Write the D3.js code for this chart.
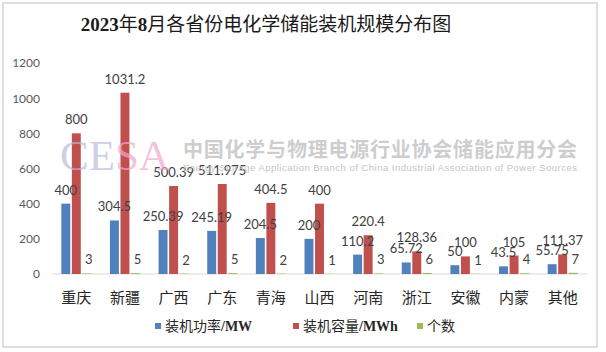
<!DOCTYPE html>
<html>
<head>
<meta charset="utf-8">
<script src="https://cdn.jsdelivr.net/npm/d3@7"></script>
<style>
  body { margin: 0; background: #fff; }
  .tick text { font-family: Lato, "Open Sans", sans-serif; font-size: 12px; fill: #595959; }
  .val { font-family: Lato, "Open Sans", sans-serif; font-size: 13px; fill: #404040; text-anchor: middle; }
  .cat { font-family: "Noto Sans CJK SC", sans-serif; font-size: 15px; fill: #262626; text-anchor: middle; }
  .legend-text { font-family: "Noto Sans CJK SC", sans-serif; font-size: 14px; fill: #262626; }
  .latin { font-family: "Liberation Serif", serif; font-weight: bold; }
</style>
</head>
<body>
<div id="chart"></div>
<script>
// categories and series
const provinces = ["重庆", "新疆", "广西", "广东", "青海", "山西", "河南", "浙江", "安徽", "内蒙", "其他"];
const powerMW = [400, 304.5, 250.39, 245.19, 204.5, 200, 110.2, 65.72, 50, 43.5, 55.75];
const capacityMWh = [800, 1031.2, 500.39, 511.975, 404.5, 400, 220.4, 128.36, 100, 105, 111.37];
const counts = [3, 5, 2, 5, 2, 1, 3, 6, 1, 4, 7];
const seriesNames = ["装机功率/MW", "装机容量/MWh", "个数"];
const seriesColors = ["#4f81bd", "#c0504d", "#9bbb59"];
const yTicks = [0, 200, 400, 600, 800, 1000, 1200];

const W = 606, H = 352;
const svg = d3.select("#chart").append("svg")
    .attr("width", W)
    .attr("height", H);

// outer frame
svg.append("rect")
    .attr("x", 3).attr("y", 3)
    .attr("width", 594).attr("height", 344)
    .attr("fill", "#fff")
    .attr("stroke", "#d4d4d4")
    .attr("stroke-width", 1.5);

// title: serif bold digits, plain CJK
const title = svg.append("text")
    .attr("x", 266).attr("y", 31)
    .attr("text-anchor", "middle")
    .style("font-family", "\"Noto Sans CJK SC\", sans-serif")
    .style("font-size", "19px")
    .style("fill", "#1a1a1a");
[["2023", true], ["年", false], ["8", true], ["月各省份电化学储能装机规模分布图", false]]
  .forEach(([t, latin]) => {
    title.append("tspan").attr("class", latin ? "latin" : null).text(t);
  });

// scales
const x = d3.scaleBand()
    .domain(provinces)
    .range([52, 587]);

const xs = d3.scaleBand()
    .domain(seriesNames)
    .range([-15, 15])
    .paddingInner(0.15);

const y = d3.scaleLinear()
    .domain([0, 1200])
    .range([274, 63]);

// y axis, no line
svg.append("g")
    .attr("transform", "translate(52,0)")
    .call(d3.axisLeft(y).tickValues(yTicks).tickSize(0).tickPadding(12).tickFormat(d3.format("d")))
    .call(g => g.select(".domain").remove());

// baseline
svg.append("line")
    .attr("x1", x.range()[0]).attr("x2", x.range()[1])
    .attr("y1", y(0)).attr("y2", y(0))
    .attr("stroke", "#d9d9d9");

const rows = provinces.map((p, i) => ({
  name: p,
  vals: [powerMW[i], capacityMWh[i], counts[i]]
}));

const groups = svg.selectAll(".grp")
  .data(rows)
  .join("g")
    .attr("class", "grp")
    .attr("transform", d => `translate(${x(d.name) + x.bandwidth() / 2},0)`);

groups.selectAll("rect")
  .data(d => d.vals.map((v, k) => ({key: seriesNames[k], v, k})))
  .join("rect")
    .attr("x", d => xs(d.key))
    .attr("y", d => y(d.v))
    .attr("width", xs.bandwidth())
    .attr("height", d => y(0) - y(d.v))
    .attr("fill", d => seriesColors[d.k]);

groups.selectAll(".val")
  .data(d => d.vals.map((v, k) => ({key: seriesNames[k], v, k})))
  .join("text")
    .attr("class", "val")
    .attr("x", d => xs(d.key) + xs.bandwidth() / 2 + (d.k == 2 ? 2 : 0))
    .attr("y", d => y(d.v) - 9)
    .text(d => d.v);

// category labels
svg.selectAll(".cat")
  .data(provinces)
  .join("text")
    .attr("class", "cat")
    .attr("x", d => x(d) + x.bandwidth() / 2)
    .attr("y", 303)
    .text(d => d);

// watermark
const wm = svg.append("g").attr("pointer-events", "none");
const cesa = wm.append("text")
    .attr("x", 60).attr("y", 170)
    .style("font-family", "\"Liberation Serif\", serif")
    .style("font-size", "43px");
cesa.append("tspan").attr("fill", "#b8b8dc").attr("fill-opacity", 0.7).text("CE");
cesa.append("tspan").attr("fill", "#f0a8cc").attr("fill-opacity", 0.7).text("SA");

wm.append("text")
    .attr("x", 183).attr("y", 157)
    .attr("textLength", 394)
    .style("font-family", "\"Noto Sans CJK SC\", sans-serif")
    .style("font-size", "20px")
    .style("font-weight", "bold")
    .attr("fill", "#c4c4c4")
    .attr("fill-opacity", 0.85)
    .text("中国化学与物理电源行业协会储能应用分会");

wm.append("text")
    .attr("x", 183).attr("y", 171)
    .attr("textLength", 394)
    .style("font-family", "\"Liberation Sans\", Arial, sans-serif")
    .style("font-size", "9.5px")
    .attr("fill", "#c4c4c4")
    .text("Energy Storage Application Branch of China Industrial Association of Power Sources");

// legend
const legendX = [155, 293, 417];
const legend = svg.selectAll(".leg")
  .data(seriesNames)
  .join("g")
    .attr("class", "leg")
    .attr("transform", (d, i) => `translate(${legendX[i]},326)`);

legend.append("rect")
    .attr("x", 0).attr("y", -3)
    .attr("width", 6).attr("height", 6)
    .attr("fill", (d, i) => seriesColors[i]);

legend.append("text")
    .attr("class", "legend-text")
    .attr("x", 10).attr("y", 5)
    .each(function(d) {
      const parts = d.split("/");
      const t = d3.select(this);
      t.append("tspan").text(parts[0]);
      if (parts[1]) t.append("tspan").attr("class", "latin").text("/" + parts[1]);
    });
</script>
</body>
</html>
